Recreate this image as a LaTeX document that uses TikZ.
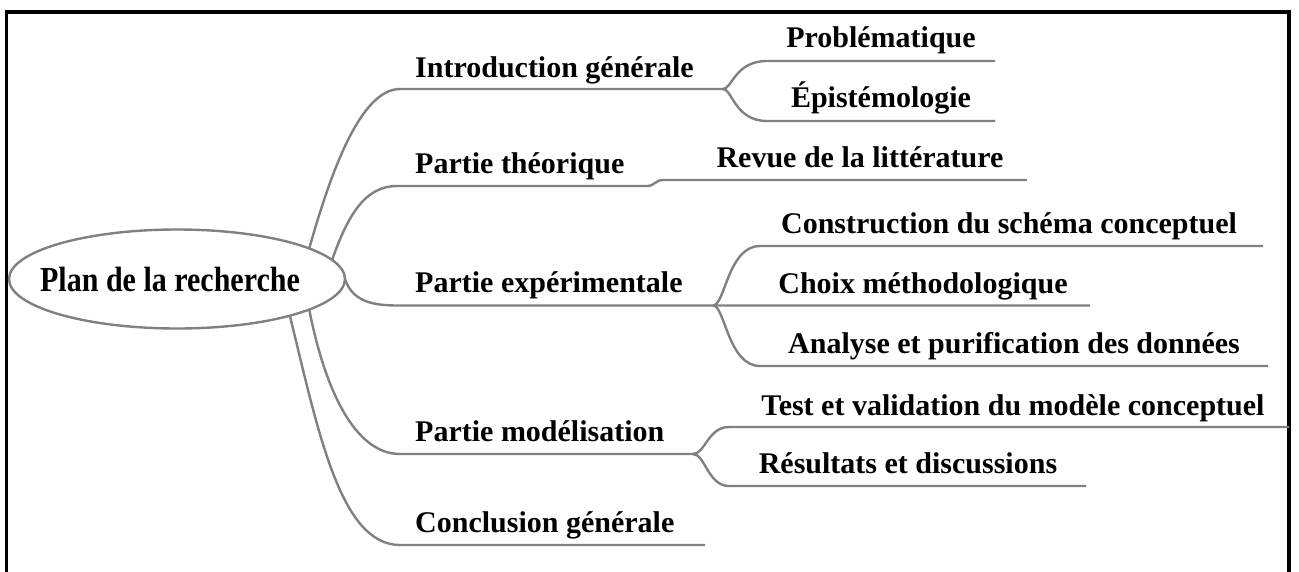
\documentclass[tikz,border=0pt]{standalone}
\usepackage{fontspec}
\setmainfont{Liberation Serif}
\usetikzlibrary{shapes.geometric}
\definecolor{branchgray}{RGB}{128,128,128}
\begin{document}
\begin{tikzpicture}[x=1pt,y=-1pt,
  branch/.style={draw=branchgray,line width=2.4pt},
  lbl/.style={font=\fontsize{30}{36}\selectfont\bfseries,inner sep=0pt,anchor=base},
  side/.style={lbl,anchor=base west},
  frameline/.style={draw=black,line width=3.5pt,line join=miter}]
\useasboundingbox (0,0) rectangle (1299,571);

% open frame (no bottom edge)
\draw[frameline] (6.5,580) -- (6.5,12) -- (1289,12) -- (1289,580);

% central ellipse
\node[ellipse,draw=branchgray,line width=2.4pt,minimum width=336pt,minimum height=99pt,
      inner sep=0pt,outer sep=0pt] (root) at (177,279) {};
\node[lbl] (rootlabel) at (170,291.7) {\scalebox{1}[1.17]{Plan de la recherche}};

% end points of the underlines
\coordinate (introL) at (400,89);   \coordinate (introF) at (723,89);
\coordinate (probL)  at (767,61);   \coordinate (probR)  at (995,61);
\coordinate (epiL)   at (767,121);  \coordinate (epiR)   at (995,121);
\coordinate (theoL)  at (397,186);  \coordinate (theoR)  at (647,186);
\coordinate (revL)   at (663,180);  \coordinate (revR)   at (1027,180);
\coordinate (expL)   at (397,305.5);\coordinate (expF)   at (713,305.5);
\coordinate (consL)  at (760,246);  \coordinate (consR)  at (1263,246);
\coordinate (choixL) at (760,305.5);\coordinate (choixR) at (1090,305.5);
\coordinate (anaL)   at (760,366);  \coordinate (anaR)   at (1268,366);
\coordinate (modL)   at (400,454);  \coordinate (modF)   at (693,454);
\coordinate (testL)  at (729,427);  \coordinate (testR)  at (1289,427);
\coordinate (resL)   at (729,486);  \coordinate (resR)   at (1086,486);
\coordinate (concL)  at (400,545);  \coordinate (concR)  at (705,545);

% branches
\draw[branch] (root.13) .. controls (330,175) and (360,89) .. (introL) -- (introF);
\draw[branch] (introF) .. controls (732,89) and (735,61) .. (probL) -- (probR);
\draw[branch] (introF) .. controls (732,89) and (735,121) .. (epiL) -- (epiR);

\draw[branch] (root.7) .. controls (348,215) and (365,186) .. (theoL) -- (theoR)
  .. controls (655,186) and (655,180) .. (revL) -- (revR);

\draw[branch] (root.0) .. controls (352,300) and (370,305.5) .. (expL) -- (expF) -- (choixL) -- (choixR);
\draw[branch] (expF) .. controls (725,305.5) and (728,246) .. (consL) -- (consR);
\draw[branch] (expF) .. controls (725,305.5) and (728,366) .. (anaL) -- (anaR);

\draw[branch] (root.-13) .. controls (325,390) and (355,454) .. (modL) -- (modF);
\draw[branch] (modF) .. controls (705,454) and (708,427) .. (testL) -- (testR);
\draw[branch] (modF) .. controls (705,454) and (708,486) .. (resL) -- (resR);

\draw[branch] (root.-18) .. controls (318,430) and (340,545) .. (concL) -- (concR);

% labels
\node[side] (intro) at (415,77)  {Introduction générale};
\node[side] (theo)  at (415,173) {Partie théorique};
\node[side] (exp)   at (415,292) {Partie expérimentale};
\node[side] (mod)   at (415,441) {Partie modélisation};
\node[side] (conc)  at (415,532) {Conclusion générale};

\node[lbl] (prob)  at (881,47)   {Problématique};
\node[lbl] (epi)   at (881,107)  {Épistémologie};
\node[lbl] (rev)   at (860,167)  {Revue de la littérature};
\node[lbl] (cons)  at (1009,233) {Construction du schéma conceptuel};
\node[lbl] (choix) at (923,293)  {Choix méthodologique};
\node[lbl] (ana)   at (1014,353) {Analyse et purification des données};
\node[lbl] (test)  at (1013,415) {Test et validation du modèle conceptuel};
\node[lbl] (res)   at (908,473)  {Résultats et discussions};
\end{tikzpicture}
\end{document}
